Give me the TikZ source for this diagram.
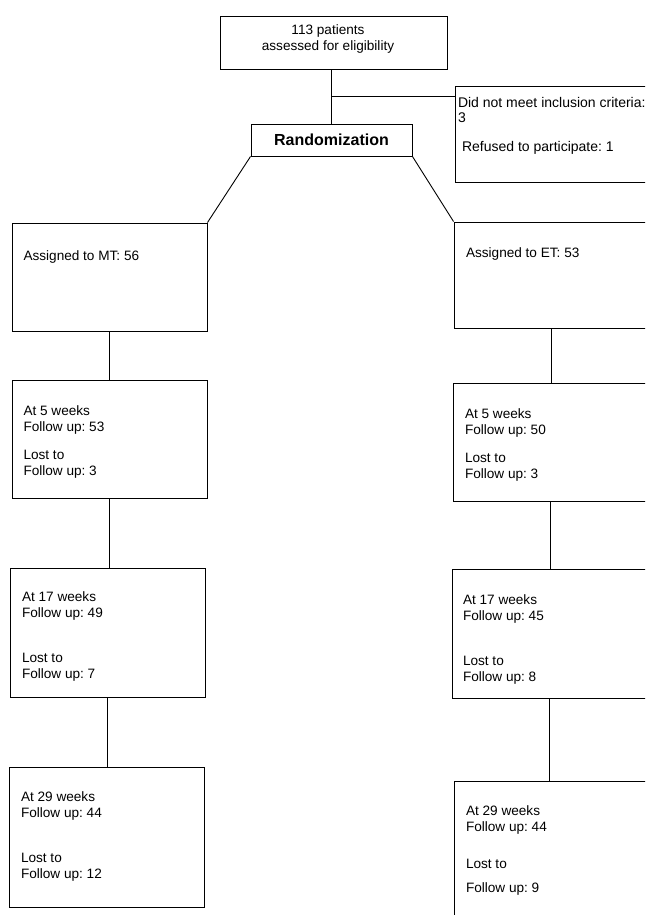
\documentclass[tikz,border=0pt]{standalone}
\usepackage{fontspec}
\setmainfont{Liberation Sans}
\usetikzlibrary{calc}
\frenchspacing
\begin{document}
\begin{tikzpicture}[x=1pt,y=-1pt,line width=0.9pt,font=\fontsize{13.6}{16}\selectfont,
  box/.style={draw,rectangle,inner sep=0pt,minimum width=195pt},
  txt/.style={anchor=north west,inner sep=0pt,align=left}]
\useasboundingbox (0,0) rectangle (645,915);
\clip (0,0) rectangle (645,915);
\node[box,minimum width=227pt,minimum height=53pt] (elig) at (333.5,42.5) {};
\node[txt,anchor=north,align=center] (eligt) at ([shift={(-5.5,9)}]elig.north) {113 patients\\assessed for eligibility};
\node[box,minimum width=161pt,minimum height=32pt,font=\bfseries\fontsize{16}{19}\selectfont] (rand) at (331.5,140) {Randomization};
\node[box,minimum height=96pt] (excl) at (552.5,134) {};
\node[txt,font=\fontsize{14}{15}\selectfont] (exclt) at ([shift={(3,11.5)}]excl.north west) {Did not meet inclusion criteria:\\3\\[14pt]\hspace*{4pt}Refused to participate: 1};
\node[box,minimum height=108pt] (mt) at (109.5,277) {};
\node[box,minimum height=106pt] (et) at (551.5,275) {};
\node[box,minimum height=118pt] (mt5) at (109.5,439) {};
\node[box,minimum height=118pt] (et5) at (550.5,442) {};
\node[box,minimum height=129pt] (mt17) at (107.5,632.5) {};
\node[box,minimum height=129pt] (et17) at (549.5,633.5) {};
\node[box,minimum height=140pt] (mt29) at (106.5,837) {};
\node[box,minimum height=179pt] (et29) at (551.5,870.5) {};
\node[txt] (mtt) at ([shift={(11.5,27.5)}]mt.north west) {Assigned to MT: 56};
\node[txt] (ett) at ([shift={(12,26)}]et.north west) {Assigned to ET: 53};
\node[txt] (mt5t) at ([shift={(11.5,25.5)}]mt5.north west) {At 5 weeks\\Follow up: 53\\[12pt]Lost to\\Follow up: 3};
\node[txt] (et5t) at ([shift={(12,25.5)}]et5.north west) {At 5 weeks\\Follow up: 50\\[12pt]Lost to\\Follow up: 3};
\node[txt] (mt17t) at ([shift={(12,23.5)}]mt17.north west) {At 17 weeks\\Follow up: 49\\[29pt]Lost to\\Follow up: 7};
\node[txt] (et17t) at ([shift={(11,25.5)}]et17.north west) {At 17 weeks\\Follow up: 45\\[29pt]Lost to\\Follow up: 8};
\node[txt] (mt29t) at ([shift={(12,24.5)}]mt29.north west) {At 29 weeks\\Follow up: 44\\[29pt]Lost to\\Follow up: 12};
\node[txt] (et29t) at ([shift={(12,24.5)}]et29.north west) {At 29 weeks\\Follow up: 44\\[21pt]Lost to\\[8pt]Follow up: 9};
\draw (rand.north) -- (rand.north |- elig.south);
\coordinate (split) at ($(rand.north)!0.5!(rand.north |- elig.south)$);
\draw (split) -- (split -| excl.west);
\draw (rand.south west) -- (mt.north east);
\draw (rand.south east) -- (et.north west);
\foreach \a/\b in {mt/mt5,mt5/mt17,mt17/mt29,et/et5,et5/et17,et17/et29}
  \draw (\a.south) -- (\a.south |- \b.north);
\end{tikzpicture}
\end{document}
